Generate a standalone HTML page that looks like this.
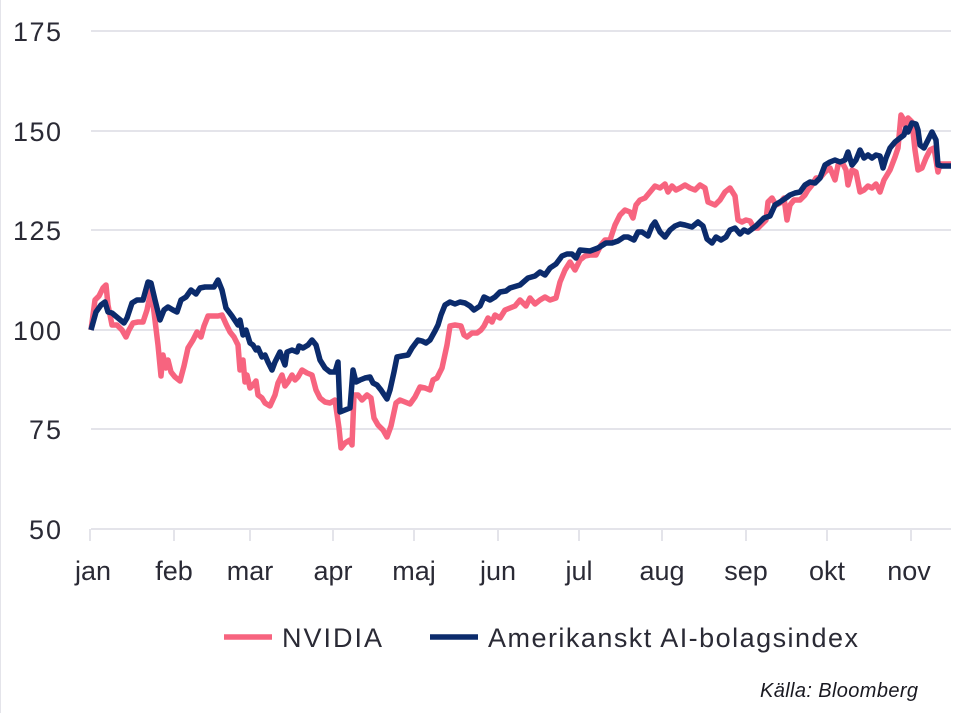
<!DOCTYPE html>
<html><head><meta charset="utf-8"><style>
body{margin:0;background:#fff;}
svg{display:block;font-family:"Liberation Sans",sans-serif;}
</style></head><body>
<svg width="973" height="713" viewBox="0 0 973 713">
<line x1="0" y1="0" x2="0" y2="713" stroke="#e4e4ea" stroke-width="2"/>
<g stroke="#e4e4ea" stroke-width="2">
<line x1="91" y1="31" x2="951" y2="31"/>
<line x1="91" y1="131" x2="951" y2="131"/>
<line x1="91" y1="230" x2="951" y2="230"/>
<line x1="91" y1="330" x2="951" y2="330"/>
<line x1="91" y1="429" x2="951" y2="429"/>
<line x1="91" y1="529" x2="951" y2="529"/>
<line x1="90" y1="529" x2="90" y2="541"/><line x1="174" y1="529" x2="174" y2="541"/><line x1="250" y1="529" x2="250" y2="541"/><line x1="333" y1="529" x2="333" y2="541"/><line x1="414" y1="529" x2="414" y2="541"/><line x1="498" y1="529" x2="498" y2="541"/><line x1="579" y1="529" x2="579" y2="541"/><line x1="662" y1="529" x2="662" y2="541"/><line x1="746" y1="529" x2="746" y2="541"/><line x1="827" y1="529" x2="827" y2="541"/><line x1="911" y1="529" x2="911" y2="541"/>
</g>
<g fill="#2a2a35" font-size="27" text-anchor="end">
<text x="61" y="41" textLength="48">175</text><text x="61" y="141" textLength="48">150</text><text x="61" y="240" textLength="48">125</text><text x="61" y="340" textLength="48">100</text><text x="61" y="439" textLength="32">75</text><text x="61" y="539" textLength="32">50</text>
</g>
<g fill="#2a2a35" font-size="27" text-anchor="middle">
<text x="93" y="580">jan</text><text x="174" y="580">feb</text><text x="250" y="580">mar</text><text x="333" y="580">apr</text><text x="414" y="580">maj</text><text x="498" y="580">jun</text><text x="579" y="580">jul</text><text x="662" y="580">aug</text><text x="746" y="580">sep</text><text x="827" y="580">okt</text><text x="909" y="580">nov</text>
</g>
<polyline fill="none" stroke="#f7647f" stroke-width="5.5" stroke-linejoin="round" points="91,330 95,300 99,296 103,288 106,285 108,305 112,325 117,325 122,330 126,337 129,330 133,323 138,322 143,322 147,310 151,290 154,312 158,345 161,376 163,355 166,368 168,360 171,372 175,377 180,381 184,366 188,348 193,340 197,332 201,337 204,326 208,316 212,316 218,316 222,315 226,324 230,332 234,337 238,345 240,370 243,360 245,382 247,375 250,388 253,385 256,381 258,395 262,398 265,403 270,406 275,395 278,383 282,375 285,386 288,382 292,375 295,380 298,377 302,370 307,373 312,375 316,390 320,398 325,402 330,403 335,400 339,428 341,448 345,443 350,440 352,445 354,395 358,395 362,400 367,395 371,398 374,418 378,425 383,430 387,437 391,426 396,403 400,400 405,402 410,404 415,397 420,387 425,388 430,390 433,380 437,378 442,368 447,345 450,326 455,325 461,326 464,335 467,337 472,333 477,333 481,330 484,326 488,318 492,322 495,315 500,318 505,310 510,308 515,306 520,300 526,306 530,298 535,304 540,300 545,297 550,300 556,298 560,282 565,270 570,262 575,270 580,260 585,256 590,255 596,255 601,245 605,240 610,240 615,225 620,215 625,210 630,212 633,218 636,205 640,200 645,198 650,192 655,186 660,188 665,184 668,192 672,186 676,190 680,188 685,185 690,188 695,190 700,185 705,188 708,202 715,205 720,200 725,192 730,188 735,196 738,220 742,222 746,220 750,221 754,228 758,228 762,224 766,220 768,202 772,198 776,205 780,203 784,198 787,220 790,205 794,200 800,200 805,195 808,190 812,185 816,178 820,178 825,172 830,168 835,180 838,165 842,162 846,170 848,185 852,170 856,172 860,192 864,190 868,186 872,188 876,184 880,192 884,180 890,170 895,157 898,148 901,115 904,120 906,128 908,118 912,122 915,150 918,170 922,168 926,158 930,150 934,148 938,172 940,164 951,164"/>
<polyline fill="none" stroke="#0b2b6c" stroke-width="5.5" stroke-linejoin="round" points="91,330 96,312 101,305 105,302 108,312 112,313 118,318 124,323 127,318 132,303 137,300 143,300 148,282 151,283 155,300 160,320 164,310 168,307 173,310 177,312 181,300 186,297 191,290 196,294 200,288 205,287 214,287 218,280 222,290 226,308 232,316 238,325 240,320 243,335 246,330 250,343 253,345 256,350 258,348 262,357 265,355 268,362 272,370 275,362 280,352 285,365 287,352 292,350 297,352 299,346 303,348 308,345 312,340 316,345 320,360 325,368 330,372 335,372 338,362 340,412 345,410 350,408 353,370 356,382 360,380 365,378 370,377 373,383 377,385 381,390 387,399 390,390 394,372 397,357 402,356 408,355 412,348 418,340 422,341 426,343 430,340 435,331 438,325 441,315 445,305 450,302 455,304 460,302 465,303 470,306 474,310 480,306 484,297 490,300 495,297 500,292 506,291 510,288 520,285 528,278 535,276 540,272 545,275 550,268 556,264 562,256 567,254 572,254 576,258 580,250 590,251 598,248 606,243 612,243 618,241 624,237 628,237 634,240 638,232 642,232 648,236 652,226 655,222 660,232 665,237 670,230 675,226 680,224 685,225 692,227 698,222 703,226 707,239 712,243 716,237 721,240 726,237 730,230 735,228 740,234 744,230 748,232 752,229 756,226 760,222 764,218 770,216 775,205 780,202 786,198 790,195 795,193 800,192 805,185 810,182 815,183 820,178 825,165 830,162 835,160 840,162 845,160 848,152 852,165 856,160 860,150 864,158 868,155 872,158 876,155 880,156 883,168 886,158 890,148 895,142 900,138 904,135 906,128 908,132 912,123 916,124 918,130 920,145 924,148 928,140 932,132 936,140 938,165 942,166 951,166"/>
<line x1="224" y1="637" x2="272" y2="637" stroke="#f7647f" stroke-width="5.5"/>
<text x="282" y="647" font-size="27" fill="#2a2a35" textLength="100">NVIDIA</text>
<line x1="430" y1="637" x2="478" y2="637" stroke="#0b2b6c" stroke-width="5.5"/>
<text x="488" y="647" font-size="27" fill="#2a2a35" textLength="370">Amerikanskt AI-bolagsindex</text>
<text x="918" y="697" font-size="20" font-style="italic" fill="#1a1a22" text-anchor="end" textLength="158">Källa: Bloomberg</text>
</svg>
</body></html>
